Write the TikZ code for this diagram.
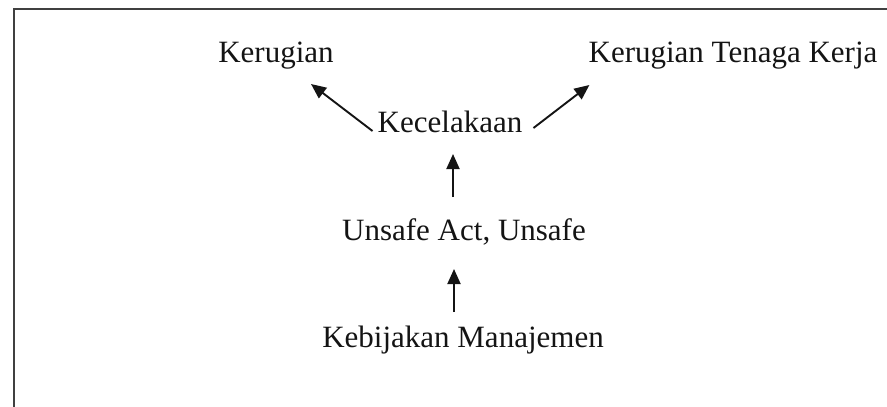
\documentclass[tikz,border=0pt]{standalone}
\usepackage{fontspec}
\setmainfont{Liberation Serif}
\usetikzlibrary{arrows.meta,calc}
\begin{document}
\begin{tikzpicture}[x=1pt,y=-1pt,
  lbl/.style={inner sep=0pt,anchor=base,font=\fontsize{31}{36}\selectfont,text=black!92},
  arr/.style={line width=1.9pt,draw=black!92,-{Triangle[length=15pt,width=13pt]}},
  frame/.style={line width=1.9pt,draw=black!75}]
\useasboundingbox (0,0) rectangle (887,407);
\draw[frame] (14,420) -- (14,9) -- (900,9);
\node[lbl] (ker) at (276,62) {Kerugian};
\node[lbl] (ktk) at (733,62) {Kerugian Tenaga Kerja};
\node[lbl] (kec) at (450,132) {Kecelakaan};
\node[lbl] (uns) at (464,240) {Unsafe Act, Unsafe};
\node[lbl] (keb) at (463,347) {Kebijakan Manajemen};
\draw[arr] ($(kec.base west)+(-5,-1)$) -- ($(ker.base)+(35,22)$);
\draw[arr] ($(kec.base east)+(11,-4)$) -- ($(ktk.base west)+(1,23)$);
\draw[arr] ($(uns.base)+(-11,-43)$) -- ($(kec.base)+(3,22)$);
\draw[arr] ($(keb.base)+(-9,-35)$) -- ($(uns.base)+(-10,29)$);
\end{tikzpicture}
\end{document}
